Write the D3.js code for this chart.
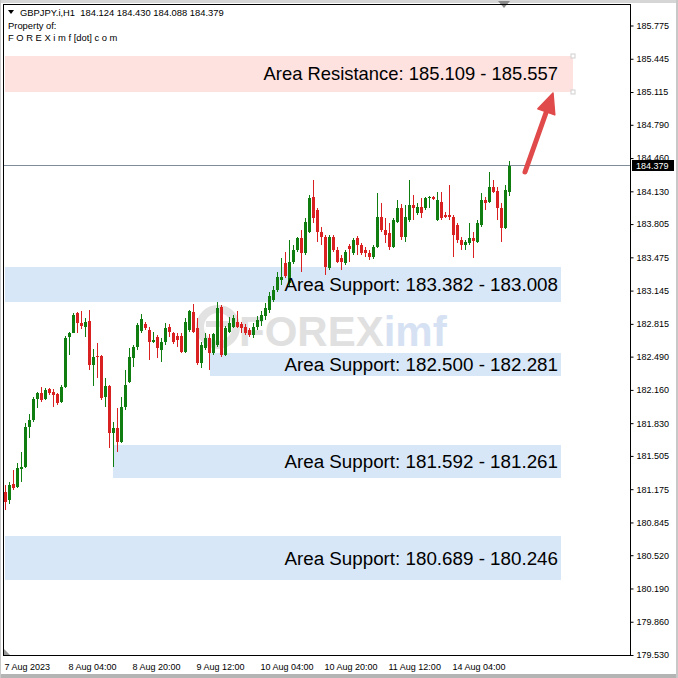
<!DOCTYPE html>
<html><head><meta charset="utf-8">
<script src="https://cdn.jsdelivr.net/npm/d3@7"></script>
<style>
html,body{margin:0;padding:0;background:#fff;}
svg{display:block;}
text{font-family:"Liberation Sans",Arial,sans-serif;}
</style></head>
<body>
<script>
// ---------- DATA ----------
const symbolInfo = "GBPJPY.i,H1  184.124 184.430 184.088 184.379";
const headerLines = ["Property of:", "F O R E X i m f [dot] c o m"];

const opens = [
181.147,181.068,181.226,181.196,181.375,181.395,181.792,181.861,182.069,182.129,
182.069,182.169,182.139,182.119,182.040,182.188,182.685,182.724,182.923,182.823,
182.784,182.843,182.407,182.496,182.496,182.089,182.198,181.732,181.782,181.643,
181.990,182.238,182.476,182.585,182.744,182.814,182.754,182.635,182.685,182.556,
182.635,182.784,182.725,182.695,182.695,182.536,182.754,182.933,182.774,182.426,
182.575,182.675,182.526,182.605,182.983,182.506,182.734,182.784,182.833,182.814,
182.784,182.754,182.705,182.784,182.843,182.893,182.953,183.052,183.151,183.250,
183.419,183.221,183.429,183.548,183.667,183.518,183.726,184.073,183.945,183.726,
183.677,183.369,183.677,183.548,183.468,183.419,183.587,183.518,183.667,183.597,
183.548,183.518,183.478,183.578,183.875,183.746,183.716,183.578,183.826,183.964,
183.677,183.845,183.994,183.915,183.974,183.964,184.063,184.073,183.845,184.024,
183.895,183.895,183.875,183.796,183.647,183.597,183.617,183.667,183.627,183.796,
184.044,184.024,184.173,184.133,183.964,183.766,184.124];
const highs = [
181.216,181.246,181.365,181.434,181.544,181.831,181.920,182.089,182.139,182.188,
182.179,182.179,182.169,182.129,182.208,182.695,182.734,182.923,182.933,182.943,
182.873,182.953,182.565,182.625,182.506,182.278,182.208,181.841,181.980,182.089,
182.357,182.575,182.605,182.823,182.913,182.833,182.784,182.734,182.705,182.675,
182.823,182.814,182.734,182.725,182.725,182.873,182.953,183.012,182.873,182.635,
182.725,182.715,182.725,183.032,183.002,182.794,182.883,182.903,182.943,182.833,
182.814,182.774,182.823,182.893,182.943,183.022,183.131,183.191,183.330,183.468,
183.528,183.647,183.597,183.677,183.746,183.865,184.093,184.242,183.964,183.776,
183.697,183.697,183.697,183.578,183.498,183.548,183.607,183.667,183.687,183.617,
183.578,183.548,183.597,184.113,184.014,183.865,183.816,183.865,184.044,184.004,
183.994,184.242,184.093,184.014,184.063,184.073,184.083,184.083,184.123,184.123,
183.925,184.193,183.895,183.816,183.677,183.647,183.816,183.726,183.845,184.113,
184.073,184.321,184.242,184.173,184.014,184.193,184.430];
const lows = [
180.969,181.028,181.167,181.186,181.246,181.385,181.682,181.841,181.980,182.040,
182.060,182.109,181.990,182.010,182.030,182.179,182.506,182.754,182.725,182.764,
182.685,182.357,182.198,182.278,182.060,181.990,181.583,181.395,181.544,181.633,
181.960,182.228,182.387,182.556,182.725,182.754,182.456,182.625,182.476,182.436,
182.605,182.685,182.615,182.585,182.526,182.526,182.734,182.725,182.407,182.377,
182.556,182.357,182.506,182.585,182.486,182.496,182.725,182.774,182.774,182.725,
182.705,182.685,182.675,182.754,182.794,182.853,182.923,183.032,183.131,183.201,
183.270,183.181,183.409,183.528,183.330,183.498,183.716,183.816,183.627,183.597,
183.300,183.350,183.528,183.419,183.350,183.399,183.429,183.498,183.498,183.498,
183.478,183.449,183.459,183.568,183.726,183.617,183.548,183.568,183.816,183.647,
183.627,183.826,183.845,183.895,183.865,183.945,183.964,184.044,183.835,183.845,
183.865,183.845,183.478,183.617,183.548,183.548,183.597,183.468,183.617,183.776,
183.945,184.014,184.113,183.845,183.627,183.756,184.088];
const closes = [
181.048,181.216,181.186,181.385,181.395,181.792,181.861,182.069,182.129,182.060,
182.159,182.129,182.109,182.030,182.188,182.675,182.724,182.903,182.823,182.794,
182.833,182.407,182.486,182.486,182.079,182.198,181.732,181.782,181.643,181.990,
182.208,182.486,182.585,182.804,182.863,182.774,182.635,182.655,182.575,182.635,
182.774,182.734,182.635,182.655,182.536,182.833,182.943,182.734,182.426,182.605,
182.675,182.526,182.715,182.973,182.506,182.774,182.823,182.873,182.784,182.774,
182.725,182.705,182.784,182.853,182.903,182.973,183.092,183.151,183.280,183.280,
183.290,183.429,183.548,183.667,183.518,183.826,184.063,183.865,183.726,183.677,
183.379,183.677,183.548,183.429,183.429,183.528,183.558,183.647,183.597,183.518,
183.518,183.478,183.578,183.875,183.746,183.697,183.578,183.845,183.964,183.677,
183.875,183.994,183.964,183.974,183.915,184.063,184.073,184.054,184.044,183.865,
183.875,183.875,183.697,183.647,183.597,183.627,183.667,183.637,183.816,184.044,
184.014,184.173,184.123,183.964,183.766,184.143,184.379];

const priceTicks = [185.775,185.445,185.115,184.790,184.460,184.130,183.805,183.475,183.145,182.815,
                    182.490,182.160,181.830,181.505,181.175,180.845,180.520,180.190,179.860,179.530];
const timeTickBars = [0,16,32,48,64,80,96,112];
const timeTickLabels = ["7 Aug 2023","8 Aug 04:00","8 Aug 20:00","9 Aug 12:00","10 Aug 04:00","10 Aug 20:00","11 Aug 12:00","14 Aug 04:00"];

const zoneLabels = ["Area Resistance: 185.109 - 185.557","Area Support: 183.382 - 183.008","Area Support: 182.500 - 182.281","Area Support: 181.592 - 181.261","Area Support: 180.689 - 180.246"];
const zoneKinds = ["resistance","support","support","support","support"];
const zoneTops = [185.472,183.379,182.526,181.613,180.710];
const zoneBottoms = [185.115,183.032,182.298,181.286,180.274];
const zoneStartBars = [0,0,51.25,27,0];
const zoneEndBars = [142,139,139,139,139];
const labelEndBar = 139;

const arrowFrom = {bar:130, price:184.322};
const arrowTo = {bar:137, price:185.105};
const watermarkParts = ["FOREX","imf"];

// ---------- CHART ----------
const W = 678, H = 678;
const L = 3, T = 4, R = 630, B = 655;
const svg = d3.select("body").append("svg").attr("width",W).attr("height",H);
svg.append("rect").attr("width",W).attr("height",H).attr("fill","#fff");

const x = d3.scaleLinear().domain([0, opens.length-1]).range([5, 5 + 4*(opens.length-1)]);
const y = d3.scaleLinear().domain([179.530, 185.775]).range([655, 25.5]);

// window edges
svg.append("rect").attr("x",0).attr("y",0).attr("width",W).attr("height",3).attr("fill","#d6d6d6");
svg.append("rect").attr("x",0).attr("y",H-4).attr("width",W).attr("height",4).attr("fill","#b4b4b4");
svg.append("rect").attr("x",W-2).attr("y",0).attr("width",2).attr("height",H).attr("fill","#c8c8c8");
svg.append("rect").attr("x",0).attr("y",0).attr("width",1).attr("height",H).attr("fill","#c8c8c8");

const plot = svg.append("g");
svg.append("clipPath").attr("id","pc").append("rect").attr("x",L).attr("y",T).attr("width",R-L).attr("height",B-T);
plot.attr("clip-path","url(#pc)");

// zones (background)
const zones = zoneLabels.map((t,i)=>({t,kind:zoneKinds[i],top:zoneTops[i],bot:zoneBottoms[i],s:zoneStartBars[i],e:zoneEndBars[i]}));
plot.selectAll("rect.zone").data(zones).enter().append("rect").attr("class","zone")
  .attr("x",d=>Math.round(x(d.s))).attr("y",d=>Math.round(y(d.top)))
  .attr("width",d=>Math.round(x(d.e))-Math.round(x(d.s)))
  .attr("height",d=>Math.round(y(d.bot))-Math.round(y(d.top)))
  .attr("fill",d=>d.kind==="resistance"?"#fde2e0":"#d8e7f7");

// watermark
const wm = plot.append("g").attr("opacity",0.7);
wm.append("circle").attr("cx",218).attr("cy",327).attr("r",18).attr("fill","none").attr("stroke","#d6d6d6").attr("stroke-width",8);
wm.append("rect").attr("x",206).attr("y",321).attr("width",24).attr("height",6).attr("fill","#d6d6d6");
const wt = wm.append("text").attr("x",239).attr("y",346).attr("font-size",42).attr("font-weight","bold");
wt.append("tspan").attr("fill","#d4d4d4").text(watermarkParts[0]);
wt.append("tspan").attr("fill","#c6d6ee").text(watermarkParts[1]);

// price line
const last = closes.length-1;
plot.append("line").attr("x1",L).attr("x2",R).attr("y1",Math.round(y(closes[last]))-0.5).attr("y2",Math.round(y(closes[last]))-0.5)
  .attr("stroke","#7f8c99").attr("stroke-width",1);

// candles
const bars = d3.range(opens.length).map(i=>({i,o:opens[i],h:highs[i],l:lows[i],c:closes[i]}));
const cg = plot.append("g");
const GREEN="#0f7d0f", RED="#d92121";
cg.selectAll("rect.wick").data(bars).enter().append("rect")
  .attr("x",d=>Math.round(x(d.i))).attr("width",1)
  .attr("y",d=>Math.round(y(d.h))).attr("height",d=>Math.max(1,Math.round(y(d.l))-Math.round(y(d.h))))
  .attr("fill",d=>d.c>=d.o?GREEN:RED);
cg.selectAll("rect.body").data(bars).enter().append("rect")
  .attr("x",d=>Math.round(x(d.i))-1).attr("width",3)
  .attr("y",d=>Math.round(y(Math.max(d.o,d.c))))
  .attr("height",d=>Math.max(1,Math.round(y(Math.min(d.o,d.c)))-Math.round(y(Math.max(d.o,d.c)))))
  .attr("fill",d=>d.c>=d.o?GREEN:RED);

// zone labels
plot.selectAll("text.zl").data(zones).enter().append("text")
  .attr("x",x(labelEndBar)-3).attr("y",d=>(y(d.top)+y(d.bot))/2).attr("dy","0.35em")
  .attr("text-anchor","end").attr("font-size",d=>d.kind==="resistance"?18.4:18.8).attr("fill","#000").text(d=>d.t);

// resistance corner handles
const rz = zones[0];
[rz.top, rz.bot].forEach(p=>{
  plot.append("rect").attr("x",Math.round(x(rz.e))-2).attr("y",Math.round(y(p))-2).attr("width",4).attr("height",4)
    .attr("fill","#fff").attr("stroke","#cfcfcf").attr("stroke-width",1);
});

// arrow
const ax1=x(arrowFrom.bar), ay1=y(arrowFrom.price), ax2=x(arrowTo.bar), ay2=y(arrowTo.price);
const dx=ax2-ax1, dy=ay2-ay1, len=Math.hypot(dx,dy), ux=dx/len, uy=dy/len;
const headL=20, headW=9;
const bx=ax2-ux*headL, by=ay2-uy*headL;
plot.append("line").attr("x1",ax1).attr("y1",ay1).attr("x2",bx+ux*2).attr("y2",by+uy*2)
  .attr("stroke","#e04a4a").attr("stroke-width",5).attr("stroke-linecap","round");
plot.append("path").attr("d",`M${ax2},${ay2}L${bx-uy*headW},${by+ux*headW}L${bx+uy*headW},${by-ux*headW}Z`)
  .attr("fill","#e04a4a").attr("stroke","#e04a4a").attr("stroke-width",1.5).attr("stroke-linejoin","round");

// shift triangle markers
svg.append("path").attr("d","M498,1L510,1L504,8Z").attr("fill","#8a8a8a");
svg.append("path").attr("d","M4,649L4,655L10,655Z").attr("fill","#9a9a9a");

// frame
svg.append("rect").attr("x",L+0.5).attr("y",T+0.5).attr("width",R-L).attr("height",B-T)
  .attr("fill","none").attr("stroke","#000").attr("stroke-width",1);

// right axis
const ya = svg.append("g").attr("transform",`translate(${R+0.5},0)`)
  .call(d3.axisRight(y).tickValues(priceTicks).tickSize(3).tickPadding(3).tickFormat(d3.format(".3f")));
ya.select(".domain").remove();
ya.selectAll("text").attr("font-size",9).attr("fill","#000").attr("font-family","Liberation Sans, Arial, sans-serif");
ya.selectAll("line").attr("stroke","#000");

// last price label
const ly = Math.round(y(closes[last]));
svg.append("rect").attr("x",632).attr("y",ly-6).attr("width",42).attr("height",11).attr("fill","#000");
svg.append("text").attr("x",636).attr("y",ly+3).attr("font-size",9).attr("fill","#fff").text(d3.format(".3f")(closes[last]));

// bottom axis
const xa = svg.append("g").attr("transform",`translate(0,${B+0.5})`)
  .call(d3.axisBottom(x).tickValues(timeTickBars).tickSize(0).tickPadding(8).tickFormat((d,i)=>timeTickLabels[i]));
xa.select(".domain").remove();
xa.selectAll("text").attr("font-size",9).attr("fill","#000").attr("text-anchor","start").attr("dx",-1)
  .attr("font-family","Liberation Sans, Arial, sans-serif");

// header
const hd = svg.append("g");
hd.append("path").attr("d","M8,10L14,10L11,14Z").attr("fill","#000");
hd.append("text").attr("x",20).attr("y",15.5).attr("font-size",9.4).attr("fill","#000").style("white-space","pre").text(symbolInfo);
hd.selectAll("text.hl").data(headerLines).enter().append("text")
  .attr("x",8).attr("y",(d,i)=>29+i*12).attr("font-size",9.4).attr("fill","#000").text(d=>d);
</script>
</body></html>
